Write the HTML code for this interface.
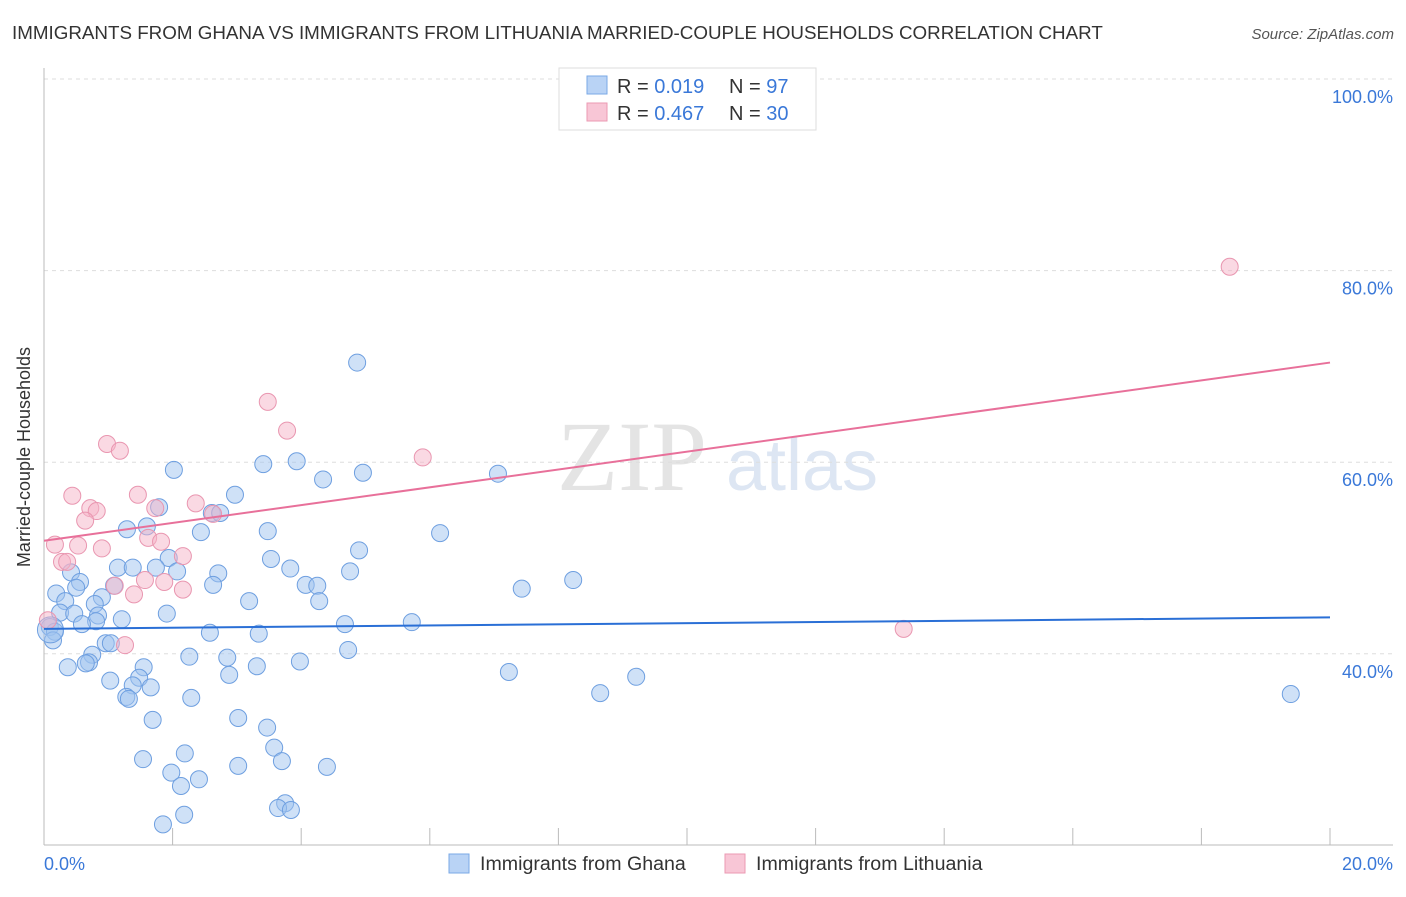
<!DOCTYPE html>
<html><head><meta charset="utf-8"><style>
body{margin:0;background:#fff;font-family:"Liberation Sans",sans-serif;}
</style></head><body>
<svg width="1406" height="892" xmlns="http://www.w3.org/2000/svg">
<text x="12" y="39" font-size="18.8" fill="#333">IMMIGRANTS FROM GHANA VS IMMIGRANTS FROM LITHUANIA MARRIED-COUPLE HOUSEHOLDS CORRELATION CHART</text>
<text x="1394" y="39" font-size="15" fill="#555" font-style="italic" text-anchor="end">Source: ZipAtlas.com</text>
<g><text x="632" y="490" font-size="100" fill="#e4e4e4" font-family="Liberation Serif" text-anchor="middle">ZIP</text><text x="802" y="490" font-size="72" fill="#dde6f3" text-anchor="middle">atlas</text></g>
<g id="grid"></g>
<line x1="44" y1="68" x2="44" y2="845" stroke="#bbb"/>
<line x1="44" y1="845" x2="1393" y2="845" stroke="#bbb"/>
<g id="ticks"></g>
<text x="30" y="457" font-size="18" fill="#333" transform="rotate(-90 30 457)" text-anchor="middle">Married-couple Households</text>
<text x="44" y="870" font-size="18" fill="#3a78d8">0.0%</text>
<text x="1393" y="870" font-size="18" fill="#3a78d8" text-anchor="end">20.0%</text>
<g id="points"></g>
<g id="lines"></g>
<g>
<rect x="559" y="68" width="257" height="62" fill="#fff" stroke="#ddd"/>
<rect x="587" y="76" width="20" height="18" fill="#b9d3f5" stroke="#7aa8e6"/>
<rect x="587" y="103" width="20" height="18" fill="#f8c6d6" stroke="#eb9ab3"/>
<text x="617" y="93" font-size="20" fill="#333">R = <tspan fill="#3a78d8">0.019</tspan><tspan x="729">N = </tspan><tspan fill="#3a78d8">97</tspan></text>
<text x="617" y="120" font-size="20" fill="#333">R = <tspan fill="#3a78d8">0.467</tspan><tspan x="729">N = </tspan><tspan fill="#3a78d8">30</tspan></text>
</g>
<g>
<rect x="449" y="854" width="20" height="19" fill="#b9d3f5" stroke="#7aa8e6"/>
<text x="480" y="870" font-size="19.6" fill="#333">Immigrants from Ghana</text>
<rect x="725" y="854" width="20" height="19" fill="#f8c6d6" stroke="#eb9ab3"/>
<text x="756" y="870" font-size="19.6" fill="#333">Immigrants from Lithuania</text>
</g>
</svg>
<script>
const yTicks=[100,80,60,40];
const yTickLabels=["100.0%","80.0%","60.0%","40.0%"];
const xTicks=[0,2,4,6,8,10,12,14,16,18,20];
const ghanaX=[4.87,2.02,3.41,3.93,4.34,4.96,7.06,2.97,1.79,2.61,2.74,1.29,1.60,2.44,3.48,6.16,4.90,1.94,3.53,1.15,1.38,1.74,2.07,2.71,3.83,4.76,0.42,0.56,0.50,1.09,2.63,4.07,4.25,7.43,8.23,0.19,0.90,0.33,0.79,3.19,4.28,0.25,0.47,0.84,1.91,1.21,0.81,0.59,4.68,5.72,0.09,0.17,2.58,3.34,0.14,0.96,1.04,4.73,0.75,2.26,2.85,3.98,0.70,0.65,0.37,1.55,3.31,7.23,2.88,1.03,1.48,9.21,1.38,1.66,1.28,1.32,2.29,8.65,19.39,1.69,3.02,3.47,3.58,2.19,1.54,3.70,3.02,4.40,1.98,2.41,2.13,3.75,3.64,3.84,2.18,1.85,0.10];
const ghanaY=[70.4,59.2,59.8,60.1,58.2,58.9,58.8,56.6,55.3,54.7,54.7,53.0,53.3,52.7,52.8,52.6,50.8,50.0,49.9,49.0,49.0,49.0,48.6,48.4,48.9,48.6,48.5,47.5,46.9,47.1,47.2,47.2,47.1,46.8,47.7,46.3,45.9,45.5,45.2,45.5,45.5,44.3,44.2,44.0,44.2,43.6,43.4,43.1,43.1,43.3,42.8,42.3,42.2,42.1,41.4,41.1,41.1,40.4,39.9,39.7,39.6,39.2,39.1,39.0,38.6,38.6,38.7,38.1,37.8,37.2,37.5,37.6,36.7,36.5,35.5,35.3,35.4,35.9,35.8,33.1,33.3,32.3,30.2,29.6,29.0,28.8,28.3,28.2,27.6,26.9,26.2,24.4,23.9,23.7,23.2,22.2,42.5];
const lithX=[18.44,3.48,3.78,5.89,0.98,1.18,0.44,1.46,2.36,0.72,0.82,1.73,2.63,0.64,1.62,1.82,0.17,0.53,0.90,2.16,0.28,0.36,1.57,1.87,1.10,1.40,2.16,0.06,1.26,13.37];
const lithY=[80.4,66.3,63.3,60.5,61.9,61.2,56.5,56.6,55.7,55.2,54.9,55.2,54.6,53.9,52.1,51.7,51.4,51.3,51.0,50.2,49.6,49.6,47.7,47.5,47.1,46.2,46.7,43.5,40.9,42.6];
const ghanaLine=[42.6,43.8];
const lithLine=[51.8,70.4];
const X=v=>44+v*64.3, Y=v=>1037-v*9.58;
const NS="http://www.w3.org/2000/svg";
function mk(tag,attrs,parent){const e=document.createElementNS(NS,tag);for(const k in attrs)e.setAttribute(k,attrs[k]);document.getElementById(parent).appendChild(e);return e;}
yTicks.forEach((t,i)=>{
 const l=mk('line',{x1:44,x2:1393,y1:Y(t),y2:Y(t),stroke:'#ddd','stroke-dasharray':'4 4'},'grid');
 
 
 const tx=mk('text',{x:1393,y:Y(t)+24,'font-size':18,fill:'#3a78d8','text-anchor':'end'},'grid');
 tx.textContent=yTickLabels[i];
 
 
});
xTicks.forEach(t=>{
 const l=mk('line',{x1:X(t),x2:X(t),y1:828,y2:845,stroke:'#bbb'},'ticks');
 
 
});
ghanaX.forEach((v,i)=>{
 const c=mk('circle',{cx:X(v),cy:Y(ghanaY[i]),r:i==ghanaX.length-1?13:8.5,fill:'rgba(160,196,240,0.5)',stroke:'#6e9fe0','stroke-width':1},'points');
 
 
});
lithX.forEach((v,i)=>{
 const c=mk('circle',{cx:X(v),cy:Y(lithY[i]),r:8.5,fill:'rgba(245,180,200,0.5)',stroke:'#e996b0','stroke-width':1},'points');
 
 
});
const bl=mk('line',{x1:X(0),x2:X(20),y1:Y(ghanaLine[0]),y2:Y(ghanaLine[1]),stroke:'#2a6fd6','stroke-width':2},'lines');


const pl=mk('line',{x1:X(0),x2:X(20),y1:Y(lithLine[0]),y2:Y(lithLine[1]),stroke:'#e8709a','stroke-width':2},'lines');


</script>
</body></html>
